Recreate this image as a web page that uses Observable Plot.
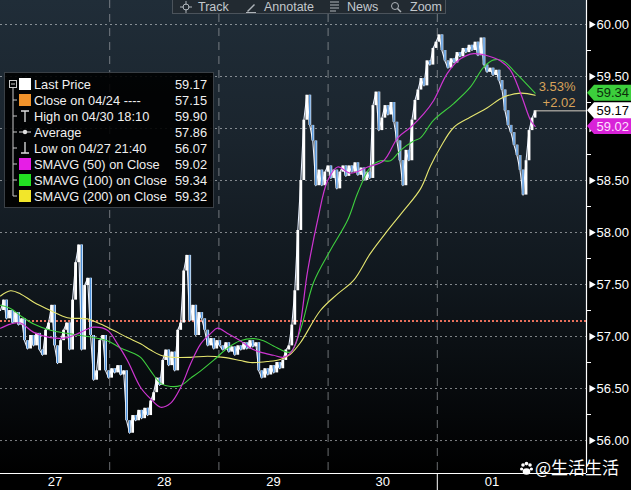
<!DOCTYPE html>
<html>
<head>
<meta charset="utf-8">
<script src="https://cdn.jsdelivr.net/npm/d3@7"></script>
<script src="https://cdn.jsdelivr.net/npm/@observablehq/plot@0.6"></script>
<style>
  html, body { margin: 0; padding: 0; background: #000; }
  #wrap { position: relative; width: 631px; height: 490px; overflow: hidden; background: #000;
          font-family: "Liberation Sans", Arial, sans-serif; }
  #bg { position: absolute; left: 0; top: 0; width: 586px; height: 473px;
        background: linear-gradient(to bottom, #202d38 0%, #1a242d 30%, #10171d 60%, #050709 88%, #000 100%); }
  #chart { position: absolute; left: 0; top: 0; }
  #toolbar { position: absolute; left: 172px; top: -4px; width: 274px; height: 18px; background: #222a31;
             border: 1px solid #4b535b; box-sizing: border-box; color: #c3c8cd; font-size: 12.5px; }
  #toolbar span { position: absolute; top: 3px; white-space: nowrap; }
  #toolbar svg { position: absolute; top: 4px; }
  #legend { position: absolute; left: 0; top: 0; }
  #wm { position: absolute; left: 519px; top: 454px; color: #fff; font-size: 17px;
        font-family: "Noto Sans CJK SC", sans-serif; white-space: nowrap; }
  #wm svg { vertical-align: -2px; margin-right: 1px; }
</style>
</head>
<body>
<div id="wrap">
  <div id="bg"></div>
  <div id="chart"></div>
  <div id="toolbar">
    <svg style="left:7px" width="12" height="12" viewBox="0 0 12 12"><circle cx="6" cy="6" r="3" fill="none" stroke="#aeb4ba"/><path d="M6 0V4M6 8V12M0 6H4M8 6H12" stroke="#aeb4ba"/></svg>
    <span style="left:25px">Track</span>
    <svg style="left:72px" width="12" height="12" viewBox="0 0 12 12"><path d="M2 10L9 3L10 4L3 11Z" fill="#aeb4ba"/><path d="M1 11.5H11" stroke="#aeb4ba"/></svg>
    <span style="left:91px">Annotate</span>
    <svg style="left:156px" width="11" height="11" viewBox="0 0 11 11"><path d="M1 1H10M1 4H10M1 7H10M1 10H7" stroke="#aeb4ba"/></svg>
    <span style="left:174px">News</span>
    <svg style="left:217px" width="12" height="12" viewBox="0 0 12 12"><circle cx="5" cy="5" r="3.5" fill="none" stroke="#aeb4ba"/><path d="M7.5 7.5L11 11" stroke="#aeb4ba" stroke-width="1.5"/></svg>
    <span style="left:237px">Zoom</span>
  </div>
  <div id="legend"></div>
  <div id="wm"><svg width="15" height="15" viewBox="0 0 15 15"><circle cx="4" cy="4" r="1.8" fill="#fff"/><circle cx="7.5" cy="2.6" r="1.8" fill="#fff"/><circle cx="11" cy="4" r="1.8" fill="#fff"/><circle cx="2.6" cy="8" r="1.6" fill="#fff"/><circle cx="12.4" cy="8" r="1.6" fill="#fff"/><ellipse cx="7.5" cy="10.5" rx="3.8" ry="3.2" fill="#fff"/></svg>@生活生活</div>
</div>
<script>
// ---------------- data ----------------
// Last price, one close per bar (bars of ~39.6 minutes, starting 04/27 00:00)
const closes = [
  57.25,57.35,57.17,57.25,57.13,57.23,57.11,57.17,56.96,56.88,
  57.01,56.91,57.03,56.87,56.82,57.06,57.13,57.30,56.91,56.74,
  56.96,57.06,57.13,56.87,57.35,57.71,57.88,56.87,57.49,57.56,
  57.01,56.58,56.67,56.96,57.01,56.67,56.60,56.69,56.65,56.72,
  56.63,56.67,56.19,56.07,56.24,56.19,56.29,56.21,56.31,56.24,
  56.38,56.46,56.60,56.53,56.77,56.87,56.72,56.85,56.67,57.06,
  57.13,57.63,57.78,57.15,57.30,57.01,57.23,57.17,57.06,56.91,
  56.98,56.88,56.96,56.91,56.87,56.94,56.85,56.90,56.82,56.91,
  56.87,56.94,56.88,56.96,56.90,56.94,56.67,56.60,56.69,56.63,
  56.72,56.65,56.75,56.69,56.77,56.87,56.91,57.11,57.44,58.02,
  58.50,59.08,59.32,59.03,58.88,58.45,58.60,58.45,58.58,58.64,
  58.52,58.60,58.42,58.58,58.64,58.54,58.64,58.58,58.67,58.55,
  58.62,58.50,58.58,58.52,59.22,59.35,58.98,59.10,59.22,59.13,
  59.25,59.06,58.88,58.69,58.45,58.79,58.69,59.08,59.27,59.37,
  59.48,59.41,59.65,59.61,59.77,59.83,59.90,59.75,59.65,59.58,
  59.67,59.63,59.73,59.69,59.77,59.73,59.80,59.75,59.83,59.70,
  59.87,59.61,59.54,59.58,59.51,59.56,59.46,59.37,59.17,59.03,
  58.96,58.84,58.74,58.60,58.36,58.69,58.98,59.10,59.17
];
const barMinutes = 39.6;

// Moving averages, sampled along the curves (hours since 04/27 00:00)
const sma50Hours = [0,2.2,4.4,7.3,11.0,14.7,17.6,20.4,23.5,25.7,27.9,30.8,33.0,35.2,37.4,39.6,41.8,44.0,46.2,47.7,49.9,52.7,54.9,57.1,60.0,62.2,63.7,65.3,67.5,69.7,71.9,74.1,76.9,80.7,84.2,87.3,90.1,93.0,95.2,98.2,101.1,104.0,107.0,109.9,112.1,114.3,116.5,117.5];
const sma50Vals  = [57.08,57.12,57.13,57.04,56.99,56.99,57.04,57.09,57.06,56.93,56.77,56.51,56.40,56.32,56.36,56.51,56.74,56.93,57.03,57.08,57.03,56.96,56.89,56.85,56.82,56.80,56.84,56.99,57.63,58.12,58.50,58.63,58.57,58.63,58.69,58.91,59.01,59.14,59.27,59.53,59.67,59.72,59.70,59.65,59.56,59.34,59.08,59.02];

const sma100Hours = [0,2.2,4.4,7.3,11.0,14.7,17.6,20.4,23.5,26.4,29.2,30.8,33.0,35.2,37.4,39.6,41.8,44.0,46.8,49.9,52.7,55.6,57.8,60.0,63.7,65.9,68.8,72.5,76.3,78.5,81.3,83.5,85.7,87.9,90.8,92.3,95.2,99.6,103.3,106.2,108.4,110.5,112.7,114.9,117.5];
const sma100Vals  = [57.30,57.27,57.20,57.12,57.06,57.03,57.01,56.99,56.96,56.89,56.84,56.80,56.67,56.55,56.52,56.53,56.60,56.67,56.77,56.89,56.96,56.98,56.96,56.91,56.85,57.06,57.52,57.83,58.12,58.38,58.63,58.69,58.69,58.79,58.88,58.91,59.08,59.24,59.40,59.59,59.66,59.65,59.56,59.46,59.34];

const sma200Hours = [0,2.2,4.4,7.3,11.0,14.7,19.1,22.0,24.8,27.9,30.8,33.0,35.2,38.0,41.8,45.5,49.0,52.7,54.9,58.7,61.5,63.7,65.9,70.3,74.1,77.6,81.3,85.1,88.6,92.3,94.5,96.7,99.6,103.3,107.0,110.5,114.3,117.5];
const sma200Vals  = [57.39,57.44,57.41,57.33,57.25,57.18,57.17,57.12,57.06,56.99,56.93,56.87,56.82,56.80,56.80,56.81,56.80,56.77,56.75,56.76,56.78,56.83,56.94,57.25,57.41,57.54,57.80,58.02,58.21,58.42,58.64,58.82,59.01,59.11,59.20,59.30,59.34,59.32];

const prevClose = 57.15;           // Close on 04/24
const yMajor = [56.0,56.5,57.0,57.5,58.0,58.5,59.0,59.5,60.0];
const yMinor = [56.25,56.75,57.25,57.75,58.25,58.75,59.25,59.75];
const dayLabels  = ["27","28","29","30","01"];
const dayCenters = [12,36,60,84,108];   // hours
const dayBounds  = [24,48,72,96];       // hours
const monthBound = [96];

const legendLabels = ["Last Price","Close on 04/24 ----","High on 04/30 18:10","Average","Low on 04/27 21:40","SMAVG (50) on Close","SMAVG (100) on Close","SMAVG (200) on Close"];
const legendValues = ["59.17","57.15","59.90","57.86","56.07","59.02","59.34","59.32"];

// ---------------- styles ----------------
const C = { s50: "#cf35d2", s100: "#3fcf3f", s200: "#e6e670", up: "#ffffff", down: "#4a8fd9",
            legend: ["#ffffff","#f0922b","high","avg","low","#e61ee6","#22e022","#f2e62a"] };

// ---------------- build ----------------
const pts = closes.map((c, i) => ({ t: i * barMinutes / 60, c }));
const bars = pts.slice(1).map((p, i) => ({ t: p.t, o: pts[i].c, c: p.c }));
const downBars = bars.filter(d => d.c < d.o);
const last = pts[pts.length - 1];
const ma = (h, v) => h.map((t, i) => ({ t, v: v[i] }));
const xMax = 128.79;
const yDom = [55.683, 60.231];

const tags = [
  { v: sma100Vals[sma100Vals.length - 1], bg: "#3ccf3c", fg: "#0b2e0b" },
  { v: sma50Vals[sma50Vals.length - 1], bg: "#d822d8", fg: "#ffe0ff" },
  { v: last.c, bg: "#ffffff", fg: "#000000" }
];
const hiddenByTag = d => tags.some(t => Math.abs(t.v - d) < 0.08);

const chart = Plot.plot({
  width: 631, height: 490,
  marginLeft: 0, marginRight: 45, marginTop: 0, marginBottom: 17,
  style: { background: "transparent", color: "white", fontFamily: "Liberation Sans, Arial, sans-serif", fontSize: "13px", overflow: "visible" },
  x: { domain: [0, xMax], axis: null, label: null },
  y: { domain: yDom, axis: null, label: null },
  marks: [
    Plot.gridY(yMajor, { stroke: "#d0d4d8", strokeOpacity: 0.6, strokeDasharray: "2,3" }),
    Plot.gridX(dayBounds, { stroke: "#a4a8ac", strokeOpacity: 0.65, strokeDasharray: "8,6" }),
    Plot.ruleY([prevClose], { stroke: "#e8705c", strokeWidth: 2, strokeDasharray: "2,2" }),
    Plot.line(pts, { x: "t", y: "c", stroke: "#e8f0ff", strokeWidth: 1.1 }),
    Plot.ruleX(bars, { x: "t", y1: "o", y2: "c", stroke: C.up, strokeWidth: 2.8 }),
    Plot.ruleX(downBars, { x: "t", y1: "o", y2: "c", stroke: C.down, strokeWidth: 1.5 }),
    Plot.line(ma(sma200Hours, sma200Vals), { x: "t", y: "v", stroke: C.s200, strokeWidth: 1.1, curve: "catmull-rom" }),
    Plot.line(ma(sma100Hours, sma100Vals), { x: "t", y: "v", stroke: C.s100, strokeWidth: 1.1, curve: "catmull-rom" }),
    Plot.line(ma(sma50Hours, sma50Vals), { x: "t", y: "v", stroke: C.s50, strokeWidth: 1.2, curve: "catmull-rom" }),
    Plot.ruleY([last], { x1: "t", x2: xMax, y: "c", stroke: "#d8d0c6", strokeWidth: 1 }),
    Plot.text([last], { x: xMax, y: "c", text: d => ((d.c - prevClose) / prevClose * 100).toFixed(2) + "%", dx: -11, dy: -24, textAnchor: "end", fill: "#d9a35a", fontSize: 13 }),
    Plot.text([last], { x: xMax, y: "c", text: d => (d.c >= prevClose ? "+" : "") + (d.c - prevClose).toFixed(2), dx: -11, dy: -8, textAnchor: "end", fill: "#d9a35a", fontSize: 13 }),
    Plot.ruleX([xMax], { stroke: "white", strokeWidth: 1.2 }),
    Plot.ruleY([yDom[0]], { stroke: "white", strokeWidth: 1.2 }),
    Plot.axisY(yMinor, { anchor: "right", tickSize: 4, tickFormat: () => "", stroke: "white" }),
    Plot.axisY(yMajor.filter(d => !hiddenByTag(d)), { anchor: "right", tickSize: 0, tickPadding: 10, tickFormat: d => d.toFixed(2), fill: "white", fontSize: 13 }),
    Plot.dot(yMajor, { x: () => xMax, y: d => d, symbol: "triangle", rotate: 90, r: 2.7, fill: "white", stroke: null, dx: 5 }),
    Plot.axisX(dayCenters, { anchor: "bottom", tickSize: 0, tickPadding: 3, tickFormat: d => dayLabels[dayCenters.indexOf(d)], fill: "white", fontSize: 13 }),
    Plot.axisX(monthBound, { anchor: "bottom", tickSize: 17, tickFormat: () => "", stroke: "white" })
  ]
});
document.getElementById("chart").appendChild(chart);

// value tags on the right axis, positioned with Plot's y scale
const yS = chart.scale("y");
const g = d3.select(chart).append("g");
tags.forEach(t => {
  const y = yS.apply(t.v);
  g.append("path").attr("d", `M587,${y} L594,${y - 8} L631,${y - 8} L631,${y + 8} L594,${y + 8} Z`).attr("fill", t.bg);
});
tags.forEach(t => {
  const y = yS.apply(t.v);
  g.append("text").attr("x", 629).attr("y", y).attr("dy", "0.36em").attr("text-anchor", "end")
    .attr("fill", t.fg).attr("font-size", 13).attr("font-family", "Liberation Sans, Arial, sans-serif")
    .text(t.v.toFixed(2));
});

// legend box
(function () {
  const top = 84, step = 16;
  let s = `<svg width="220" height="215" xmlns="http://www.w3.org/2000/svg" style="font-family:Liberation Sans,Arial,sans-serif;font-size:12.8px">`;
  s += `<rect x="4.5" y="72.5" width="209" height="135" fill="rgba(0,0,0,0.9)" stroke="#3a4046"/>`;
  s += `<rect x="9.5" y="80.5" width="7" height="7" fill="none" stroke="#c8c8c8"/><path d="M11 84H15" stroke="#c8c8c8"/>`;
  s += `<path d="M13 88V${top + step * 7}" stroke="#c8c8c8"/>`;
  legendLabels.forEach((lab, i) => {
    const y = top + step * i;
    if (i > 0) s += `<path d="M13 ${y}H17" stroke="#c8c8c8"/>`;
    const sw = C.legend[i];
    if (sw === "high") s += `<path d="M21 ${y - 5}H29M25 ${y - 5}V${y + 6}" stroke="#e0e0e0" stroke-width="1.3"/>`;
    else if (sw === "avg") s += `<path d="M19 ${y}H31" stroke="#e0e0e0"/><circle cx="25" cy="${y}" r="2.2" fill="#e0e0e0"/>`;
    else if (sw === "low") s += `<path d="M25 ${y - 6}V${y + 5}M21 ${y + 5}H29" stroke="#e0e0e0" stroke-width="1.3"/>`;
    else s += `<rect x="19" y="${y - 6}" width="12" height="12" fill="${sw}"/>`;
    s += `<text x="34" y="${y}" dy="0.36em" fill="#f0f0f0">${lab}</text>`;
    s += `<text x="207" y="${y}" dy="0.36em" fill="#f0f0f0" text-anchor="end">${legendValues[i]}</text>`;
  });
  s += `</svg>`;
  document.getElementById("legend").innerHTML = s;
})();
</script>
</body>
</html>
